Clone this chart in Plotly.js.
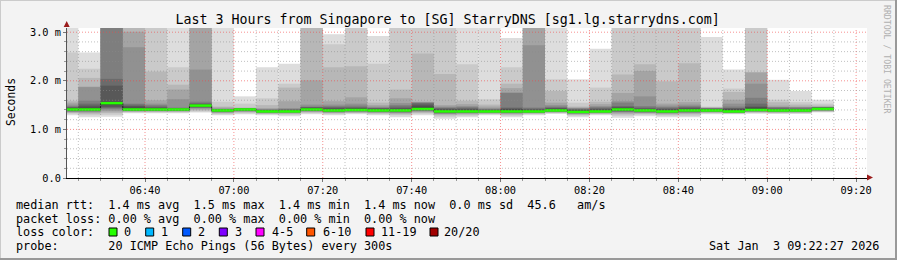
<!DOCTYPE html>
<html><head><meta charset="utf-8">
<script src="https://cdn.plot.ly/plotly-3.0.1.min.js"></script>
<style>html,body{margin:0;padding:0;background:#f3f3f3;}#chart{width:897px;height:260px;}</style>
</head><body><div id="chart"></div>
<script>
// ---------- data ----------
const slotEnd = ['06:25','06:30','06:35','06:40','06:45','06:50','06:55','07:00','07:05','07:10','07:15','07:20',
  '07:25','07:30','07:35','07:40','07:45','07:50','07:55','08:00','08:05','08:10','08:15','08:20','08:25','08:30',
  '08:35','08:40','08:45','08:50','08:55','09:00','09:05','09:10','09:15'];
const median = [1.41,1.41,1.54,1.41,1.41,1.41,1.49,1.39,1.41,1.37,1.37,1.41,1.39,1.40,1.39,1.39,1.42,1.37,1.37,1.37,1.37,1.37,1.39,1.36,1.37,1.41,1.39,1.37,1.39,1.39,1.37,1.40,1.39,1.39,1.42];
// sorted ping values (ms), rank 1 (fastest) .. rank 20 (slowest) for each 5-minute slot
const p01 = [1.29,1.25,1.26,1.33,1.33,1.33,1.35,1.29,1.31,1.29,1.27,1.31,1.29,1.31,1.29,1.25,1.29,1.22,1.25,1.29,1.25,1.29,1.32,1.25,1.29,1.24,1.27,1.25,1.25,1.31,1.31,1.32,1.32,1.32,1.35];
const p02 = [1.32,1.29,1.30,1.35,1.35,1.35,1.37,1.31,1.33,1.31,1.30,1.33,1.31,1.33,1.31,1.29,1.32,1.26,1.28,1.31,1.28,1.31,1.33,1.28,1.31,1.28,1.30,1.28,1.28,1.33,1.32,1.34,1.33,1.33,1.36];
const p03 = [1.34,1.32,1.34,1.36,1.36,1.36,1.39,1.33,1.35,1.32,1.32,1.35,1.33,1.34,1.33,1.31,1.34,1.29,1.30,1.32,1.30,1.32,1.34,1.30,1.32,1.31,1.32,1.30,1.31,1.34,1.33,1.35,1.34,1.34,1.37];
const p04 = [1.35,1.34,1.37,1.37,1.37,1.37,1.41,1.34,1.36,1.33,1.33,1.36,1.34,1.35,1.34,1.33,1.36,1.31,1.32,1.33,1.32,1.33,1.35,1.31,1.33,1.33,1.33,1.32,1.33,1.35,1.34,1.36,1.35,1.35,1.38];
const p05 = [1.36,1.36,1.39,1.38,1.38,1.38,1.43,1.35,1.37,1.34,1.34,1.37,1.35,1.36,1.35,1.34,1.37,1.32,1.33,1.34,1.33,1.34,1.36,1.32,1.34,1.35,1.34,1.33,1.34,1.36,1.34,1.37,1.36,1.36,1.39];
const p06 = [1.37,1.37,1.42,1.38,1.38,1.38,1.44,1.36,1.38,1.35,1.35,1.38,1.36,1.37,1.36,1.35,1.38,1.33,1.34,1.35,1.34,1.35,1.36,1.33,1.35,1.36,1.35,1.34,1.35,1.36,1.35,1.37,1.36,1.36,1.39];
const p07 = [1.38,1.38,1.44,1.39,1.39,1.39,1.45,1.37,1.38,1.35,1.35,1.38,1.37,1.38,1.37,1.36,1.39,1.34,1.35,1.35,1.35,1.35,1.37,1.34,1.35,1.37,1.36,1.35,1.36,1.37,1.35,1.38,1.37,1.37,1.40];
const p08 = [1.39,1.39,1.46,1.39,1.39,1.39,1.46,1.37,1.39,1.36,1.36,1.39,1.37,1.38,1.37,1.37,1.40,1.35,1.35,1.36,1.35,1.36,1.38,1.34,1.36,1.38,1.37,1.35,1.37,1.38,1.36,1.38,1.38,1.38,1.40];
const p09 = [1.40,1.40,1.50,1.40,1.40,1.40,1.47,1.38,1.40,1.36,1.36,1.40,1.38,1.39,1.38,1.38,1.41,1.36,1.36,1.36,1.36,1.36,1.38,1.35,1.36,1.39,1.38,1.36,1.38,1.38,1.36,1.39,1.38,1.38,1.41];
const p10 = [1.40,1.40,1.53,1.40,1.40,1.40,1.48,1.38,1.40,1.37,1.37,1.40,1.38,1.39,1.38,1.38,1.41,1.36,1.36,1.37,1.36,1.37,1.39,1.35,1.37,1.40,1.38,1.36,1.38,1.39,1.37,1.39,1.39,1.39,1.41];
const p11 = [1.42,1.43,1.55,1.42,1.42,1.42,1.50,1.40,1.42,1.38,1.38,1.42,1.40,1.41,1.40,1.40,1.44,1.38,1.38,1.38,1.39,1.38,1.40,1.37,1.38,1.43,1.40,1.38,1.40,1.40,1.39,1.42,1.40,1.40,1.43];
const p12 = [1.44,1.45,1.57,1.45,1.44,1.42,1.51,1.40,1.42,1.39,1.39,1.44,1.42,1.43,1.42,1.42,1.47,1.40,1.40,1.39,1.41,1.40,1.42,1.39,1.40,1.44,1.41,1.40,1.42,1.41,1.41,1.45,1.41,1.41,1.44];
const p13 = [1.45,1.49,1.90,1.48,1.45,1.43,1.52,1.41,1.43,1.39,1.40,1.45,1.44,1.44,1.43,1.44,1.51,1.42,1.42,1.40,1.43,1.41,1.44,1.40,1.42,1.46,1.43,1.42,1.44,1.42,1.43,1.47,1.42,1.42,1.45];
const p14 = [1.46,1.53,2.04,1.51,1.47,1.44,1.54,1.41,1.43,1.40,1.41,1.46,1.46,1.46,1.44,1.47,1.54,1.44,1.44,1.41,1.45,1.43,1.45,1.42,1.44,1.48,1.45,1.44,1.46,1.43,1.44,1.53,1.44,1.43,1.45];
const p15 = [1.48,1.59,3.30,1.53,1.50,1.45,1.57,1.42,1.43,1.41,1.42,1.47,1.48,1.49,1.45,1.50,1.55,1.45,1.46,1.42,1.75,1.45,1.47,1.43,1.46,1.55,1.48,1.46,1.48,1.44,1.47,1.65,1.46,1.45,1.46];
const p16 = [1.51,1.87,3.30,2.69,1.53,1.62,2.23,1.43,1.43,1.42,1.44,1.51,1.51,1.53,1.47,1.54,1.56,1.47,1.48,1.44,1.76,2.73,1.50,1.44,1.48,1.58,1.68,1.49,1.51,1.44,1.53,1.94,1.46,1.46,1.46];
const p17 = [1.55,1.88,3.30,3.01,1.60,1.82,3.30,1.45,1.44,1.44,1.58,2.01,1.58,1.66,1.50,1.64,1.57,1.50,1.52,1.47,1.85,3.30,1.55,1.45,1.52,1.75,2.20,1.53,1.56,1.45,1.61,2.17,1.49,1.47,1.47];
const p18 = [1.59,2.06,3.30,3.30,2.19,1.92,3.30,1.47,1.45,1.50,1.86,3.30,2.28,2.30,1.55,1.82,2.56,2.14,1.59,1.51,1.94,3.30,1.79,1.47,1.57,2.13,2.34,1.99,2.36,1.45,1.77,2.18,1.56,1.51,1.49];
const p19 = [2.58,2.25,3.30,3.30,3.30,2.28,3.30,1.57,1.53,1.64,1.94,3.30,2.75,3.30,2.35,3.30,3.30,3.30,2.34,1.62,2.28,3.30,2.03,1.55,1.86,3.30,3.30,3.30,3.30,1.47,1.84,3.30,1.61,1.56,1.53];
const p20 = [3.30,2.58,3.30,3.30,3.30,3.30,3.30,3.30,1.68,2.28,2.35,3.30,2.96,3.30,2.92,3.30,3.30,3.30,3.30,3.30,2.88,3.30,3.30,2.03,2.66,3.30,3.30,3.30,3.30,2.90,2.23,3.30,2.02,1.79,1.61];
const yTickVals = [0, 1, 2, 3];
const yTickText = ['0.0', '1.0 m', '2.0 m', '3.0 m'];
const lossLabels = ['0', '1', '2', '3', '4-5', '6-10', '11-19', '20/20'];
const lossColors = ['#26ff00', '#00b8ff', '#0059ff', '#7e00ff', '#ff00ff', '#ff5500', '#ff0000', '#a10000'];
const titleText = 'Last 3 Hours from Singapore to [SG] StarryDNS [sg1.lg.starrydns.com]';
const legendRows = [
  'median rtt:  1.4 ms avg  1.5 ms max  1.4 ms min  1.4 ms now  0.0 ms sd  45.6   am/s',
  'packet loss: 0.00 % avg  0.00 % max  0.00 % min  0.00 % now',
  'loss color:',
  'probe:       20 ICMP Echo Pings (56 Bytes) every 300s'
];
const stampText = 'Sat Jan  3 09:22:27 2026';
const sideText = 'RRDTOOL / TOBI OETIKER';

// ---------- geometry ----------
const W = 897, H = 260, L = 67, R = 30, T = 28, B = 82;
const PW = W - L - R, PH = H - T - B;
const PX_PER_MS = 48.6;
const px2x = px => (px - L) / PW;
const py2y = py => (H - B - py) / PH;
const MONO = 'DejaVu Sans Mono, monospace';
const nb = s => s.replace(/ /g, '\u00a0');
const toMs = s => { const [h, m] = s.split(':').map(Number); return Date.UTC(2026, 0, 3, h, m, 0); };

const ends = slotEnd.map(toMs);
const starts = ends.map(t => t - 300000);
const centers = ends.map(t => t - 150000);
const ranks = [p01,p02,p03,p04,p05,p06,p07,p08,p09,p10,p11,p12,p13,p14,p15,p16,p17,p18,p19,p20];

const traces = [];
for (let k = 1; k <= 10; k++) {
  const lo = ranks[k - 1], hi = ranks[20 - k];
  const g = Math.floor(190 / 10 * (10 - k)) + 50;
  traces.push({
    type: 'bar', x: centers, base: lo, y: hi.map((v, i) => v - lo[i]), width: 300000,
    marker: {color: `rgb(${g},${g},${g})`, line: {width: 0}}, hoverinfo: 'skip', showlegend: false
  });
}
// dark median step line
traces.push({
  type: 'scatter', mode: 'lines', x: starts.concat([ends[ends.length - 1]]),
  y: median.concat([median[median.length - 1]]), line: {shape: 'hv', color: '#202020', width: 1},
  hoverinfo: 'skip', showlegend: false
});
// green median segments (loss 0)
const gx = [], gy = [];
starts.forEach((s, i) => { gx.push(s, ends[i], null); gy.push(median[i], median[i], null); });
traces.push({
  type: 'scatter', mode: 'lines', x: gx, y: gy, line: {color: lossColors[0], width: 2.5},
  connectgaps: false, hoverinfo: 'skip', showlegend: false
});

// ---------- grid as shapes above the smoke ----------
const shapes = [];
const t0 = toMs('06:25'), t1 = toMs('09:20');
for (let t = t0; t <= t1; t += 300000) {
  const major = ((t - toMs('06:40')) % 1200000) === 0;
  shapes.push({type: 'line', xref: 'x', yref: 'paper', x0: t, x1: t, y0: 0, y1: 1, layer: 'above',
    line: {color: major ? 'rgba(240,70,70,0.6)' : 'rgba(140,140,140,0.55)', width: 1, dash: '1px,2px'}});
}
const yTop = PH / PX_PER_MS;
for (let i = 1; i * 0.2 < yTop; i++) {
  const v = Math.round(i * 2) / 10;
  const major = Math.abs(v - Math.round(v)) < 1e-9;
  shapes.push({type: 'line', xref: 'paper', yref: 'y', x0: 0, x1: 1, y0: v, y1: v, layer: 'above',
    line: {color: major ? 'rgba(240,70,70,0.6)' : 'rgba(140,140,140,0.55)', width: 1, dash: '1px,2px'}});
}
// arrows
const P = (px, py) => `${px2x(px)},${py2y(py)}`;
shapes.push({type: 'path', xref: 'paper', yref: 'paper', layer: 'above',
  path: `M${P(63.7, 27)} L${P(69.7, 27)} L${P(66.7, 21)} Z`, fillcolor: '#9b1c1c', line: {width: 0}});
shapes.push({type: 'path', xref: 'paper', yref: 'paper', layer: 'above',
  path: `M${P(867, 174.5)} L${P(867, 180.5)} L${P(873, 177.5)} Z`, fillcolor: '#9b1c1c', line: {width: 0}});
// frame shading
shapes.push({type: 'line', xref: 'paper', yref: 'paper', x0: px2x(0), x1: px2x(W), y0: py2y(0.5), y1: py2y(0.5), line: {color: '#cbcbcb', width: 1}});
shapes.push({type: 'line', xref: 'paper', yref: 'paper', x0: px2x(0.5), x1: px2x(0.5), y0: py2y(0), y1: py2y(H), line: {color: '#cbcbcb', width: 1}});
shapes.push({type: 'line', xref: 'paper', yref: 'paper', x0: px2x(0), x1: px2x(W), y0: py2y(H - 1), y1: py2y(H - 1), line: {color: '#999999', width: 2}});
shapes.push({type: 'line', xref: 'paper', yref: 'paper', x0: px2x(W - 1), x1: px2x(W - 1), y0: py2y(0), y1: py2y(H), line: {color: '#999999', width: 2}});
// loss colour boxes
const boxX = [109, 145.7, 182.7, 219.3, 256, 306.7, 366, 430];
const labX = [123, 160, 197, 233.5, 270.5, 321.5, 380, 443];
lossColors.forEach((c, i) => {
  shapes.push({type: 'rect', xref: 'paper', yref: 'paper', x0: px2x(boxX[i]), x1: px2x(boxX[i] + 8),
    y0: py2y(236), y1: py2y(228), fillcolor: c, line: {color: '#000', width: 1}});
});

// ---------- text ----------
const LF = 11.8;
const ann = (text, px, py, extra) => Object.assign({
  text: nb(text), x: px2x(px), y: py2y(py), xref: 'paper', yref: 'paper', xanchor: 'left', yanchor: 'middle',
  showarrow: false, borderpad: 0, font: {family: MONO, size: LF, color: '#000'}
}, extra || {});
const annotations = [];
const rowY = [204.5, 218.5, 232.3, 246];
legendRows.forEach((r, i) => annotations.push(ann(r, 15, rowY[i])));
lossLabels.forEach((l, i) => annotations.push(ann(l, labX[i], rowY[2])));
annotations.push(ann(stampText, 880, rowY[3], {xanchor: 'right'}));
annotations.push(ann('Seconds', 11, 102, {xanchor: 'center', textangle: -90, font: {family: MONO, size: 11.4, color: '#000'}}));
annotations.push(ann(sideText, 887, 60, {xanchor: 'center', textangle: 90, font: {family: MONO, size: 8.2, color: '#b0b0b0'}}));

const layout = {
  width: W, height: H, margin: {l: L, r: R, t: T, b: B, pad: 0},
  paper_bgcolor: '#f3f3f3', plot_bgcolor: '#ffffff', barmode: 'overlay', showlegend: false,
  font: {family: MONO, size: 10.3, color: '#000'},
  title: {text: titleText, font: {family: MONO, size: 13.3, color: '#000'}, x: 0.499, xref: 'container', xanchor: 'center',
    y: 1 - 19 / H, yref: 'container', yanchor: 'middle'},
  xaxis: {type: 'date', range: [Date.UTC(2026, 0, 3, 6, 22, 27), Date.UTC(2026, 0, 3, 9, 22, 27)],
    tickformat: '%H:%M', tick0: toMs('06:40'), dtick: 1200000, ticks: 'outside', ticklen: 3, tickcolor: '#777',
    showgrid: false, zeroline: false, showline: true, linecolor: '#000', linewidth: 1,
    minor: {dtick: 300000, tick0: toMs('06:40'), ticks: 'outside', ticklen: 2, tickcolor: '#999', showgrid: false},
    tickfont: {family: MONO, size: 10.3, color: '#000'}, fixedrange: true},
  yaxis: {range: [0, yTop], tickmode: 'array', tickvals: yTickVals, ticktext: yTickText, ticks: 'outside', ticklen: 3,
    tickcolor: '#777', showgrid: false, zeroline: false, showline: true, linecolor: '#555', linewidth: 1,
    minor: {dtick: 0.2, tick0: 0, ticks: 'outside', ticklen: 2, tickcolor: '#999', showgrid: false},
    tickfont: {family: MONO, size: 10.3, color: '#000'}, fixedrange: true},
  shapes: shapes, annotations: annotations
};
Plotly.newPlot('chart', traces, layout, {staticPlot: true, displayModeBar: false});
</script></body></html>
